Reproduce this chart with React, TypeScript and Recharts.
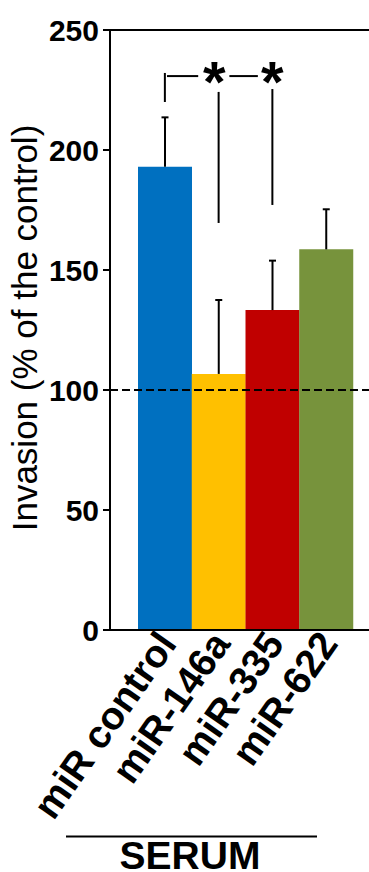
import React from 'react';
import {
  BarChart,
  Bar,
  Cell,
  XAxis,
  YAxis,
  ErrorBar,
  ReferenceLine,
  ReferenceDot,
} from 'recharts';

const FONT = '"Liberation Sans", Arial, Helvetica, sans-serif';

const groups = ['miR control', 'miR-146a', 'miR-335', 'miR-622'];
const invasion = [193, 106.7, 133.3, 158.6];
const errUp = [20.6, 30.8, 20.6, 16.7];
const barColors = ['#0070C0', '#FFC000', '#C00000', '#77933C'];
const yTicks = [0, 50, 100, 150, 200, 250];
// bar centres on the hidden 0..4 position axis
const barPos = [0.5, 1.5, 2.5, 3.5];

// significance marks, drawn on the hidden position axis
const bracketSegments = [
  [[0.5, 220], [0.5, 232.1]],
  [[0.54, 230.8], [1.12, 230.8]],
  [[1.7, 230.8], [2.23, 230.8]],
  [[1.5, 224.2], [1.5, 169.6]],
  [[2.5, 225.4], [2.5, 177.1]],
];
const starX = [1.42, 2.5];
const starY = 230.8;

const data = groups.map((name, i) => ({
  name,
  pos: barPos[i],
  value: invasion[i],
  err: [0, errUp[i]],
}));

function GroupTick({ x, y, payload }: any) {
  const tx = x + 13;
  const ty = y + 14;
  return (
    <text
      x={tx}
      y={ty}
      transform={`rotate(-55, ${tx}, ${ty})`}
      textAnchor="end"
      fontFamily={FONT}
      fontSize={39}
      fontWeight="bold"
      fill="#000"
    >
      {payload.value}
    </text>
  );
}

function YTitle({ viewBox }: any) {
  const x = viewBox.x + 37;
  const y = viewBox.y + viewBox.height / 2 - 2;
  return (
    <text
      x={x}
      y={y}
      transform={`rotate(-90, ${x}, ${y})`}
      textAnchor="middle"
      fontFamily={FONT}
      fontSize={35}
      fill="#000"
    >
      Invasion (% of the control)
    </text>
  );
}

function GroupTitle({ viewBox }: any) {
  const cx = viewBox.x + 80;
  return (
    <g>
      <line x1={cx - 124} x2={cx + 127} y1={viewBox.y + 206.5} y2={viewBox.y + 206.5} stroke="#000" strokeWidth={2} />
      <text x={cx} y={viewBox.y + 239} textAnchor="middle" fontFamily={FONT} fontSize={39} fontWeight="bold" fill="#000">
        SERUM
      </text>
    </g>
  );
}

function Star({ cx, cy }: any) {
  return (
    <text x={cx} y={cy + 26} textAnchor="middle" fontFamily={FONT} fontSize={58} fontWeight="bold" fill="#000">
      *
    </text>
  );
}

export default function App() {
  return (
    <div style={{ position: 'absolute', left: 0, top: 0, width: 369, height: 872 }}>
      <style>{'.recharts-errorBar line:nth-of-type(3){display:none}'}</style>
      <BarChart
        width={369}
        height={872}
        data={data}
        margin={{ top: 30, right: 0, bottom: 0, left: 0 }}
        barCategoryGap={0}
        barGap={0}
      >
        <XAxis
          dataKey="name"
          height={242}
          padding={{ left: 28, right: 16 }}
          axisLine={{ stroke: '#000', strokeWidth: 2 }}
          tickLine={false}
          tickSize={0}
          tickMargin={0}
          interval={0}
          tick={<GroupTick />}
          label={GroupTitle}
        />
        <XAxis
          xAxisId="pos"
          dataKey="pos"
          type="number"
          domain={[0, 4]}
          allowDataOverflow
          padding={{ left: 28, right: 16 }}
          hide
        />
        <YAxis
          width={110}
          domain={[0, 250]}
          ticks={yTicks}
          interval={0}
          tickSize={7}
          tickMargin={4}
          axisLine={{ stroke: '#000', strokeWidth: 2 }}
          tickLine={{ stroke: '#000', strokeWidth: 2 }}
          tick={{ fill: '#000', fontSize: 30, fontWeight: 'bold', fontFamily: FONT }}
          label={YTitle}
        />
        <Bar dataKey="value" isAnimationActive={false}>
          {data.map((d, i) => (
            <Cell key={d.name} fill={barColors[i]} />
          ))}
          <ErrorBar dataKey="err" direction="y" width={3.5} stroke="#000" strokeWidth={2} isAnimationActive={false} />
        </Bar>
        <ReferenceLine y={250} stroke="#000" strokeWidth={2} />
        <ReferenceLine y={100} stroke="#000" strokeWidth={2} strokeDasharray="8 4" />
        {bracketSegments.map((s, i) => (
          <ReferenceLine
            key={i}
            xAxisId="pos"
            segment={[
              { x: s[0][0], y: s[0][1] },
              { x: s[1][0], y: s[1][1] },
            ]}
            stroke="#000"
            strokeWidth={2}
          />
        ))}
        {starX.map((x) => (
          <ReferenceDot key={x} xAxisId="pos" x={x} y={starY} r={0} shape={Star} />
        ))}
      </BarChart>
    </div>
  );
}
